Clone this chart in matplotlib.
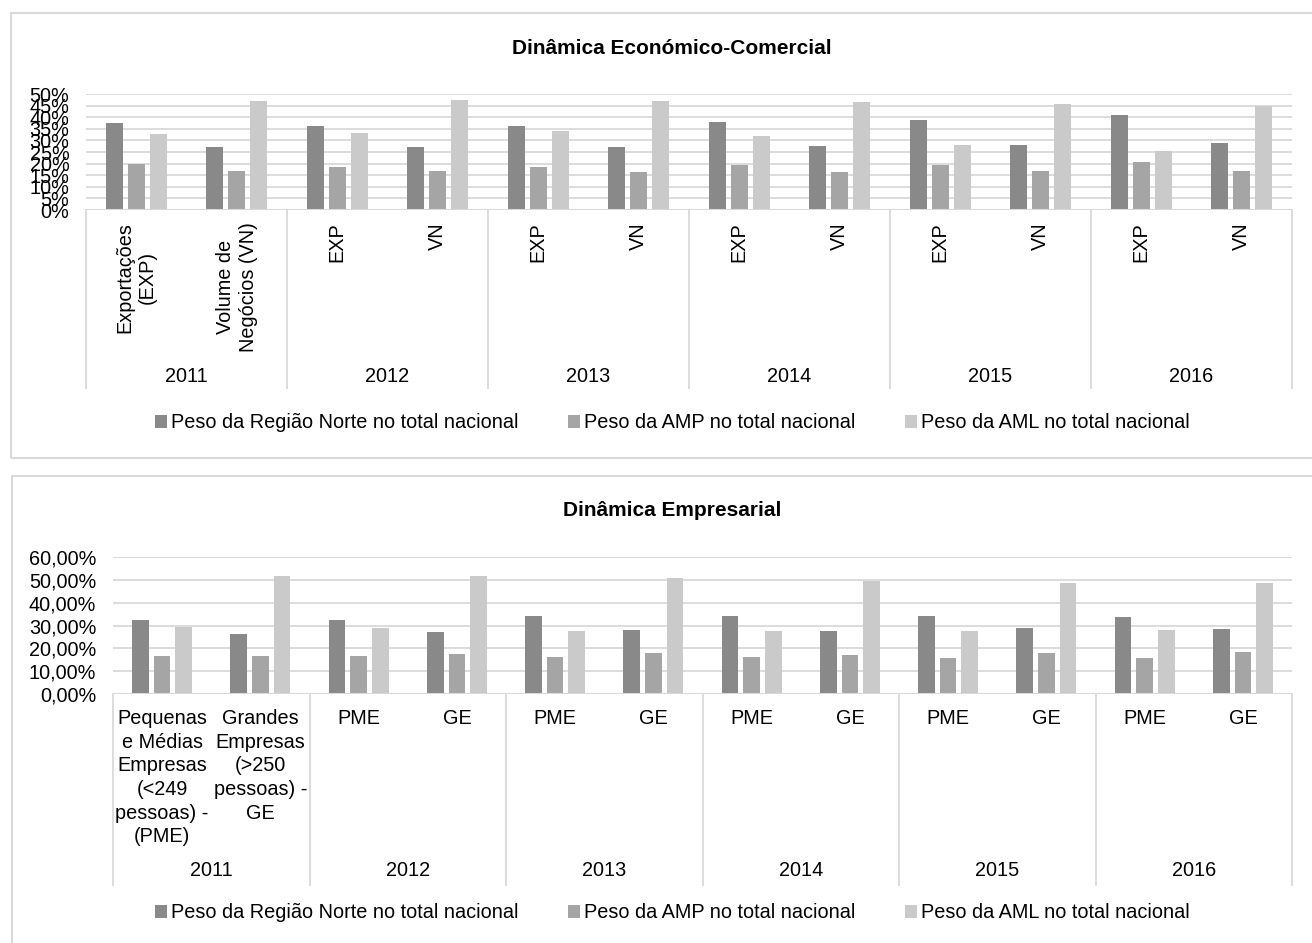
import matplotlib
matplotlib.use('Agg')
import matplotlib.pyplot as plt
from matplotlib import transforms
from matplotlib.patches import Rectangle, Patch

plt.rcParams['font.family'] = ['Liberation Sans', 'DejaVu Sans']
plt.rcParams['text.color'] = '#000000'

W, H = 1312, 943

years = ['2011', '2012', '2013', '2014', '2015', '2016']
series = ['Peso da Região Norte no total nacional',
          'Peso da AMP no total nacional',
          'Peso da AML no total nacional']
colors = ['#898989', '#a5a5a5', '#cacaca']

# Dinâmica Económico-Comercial (%)
eco_labels = ['Exportações\n(EXP)', 'Volume de\nNegócios (VN)'] + ['EXP', 'VN'] * 5
eco_norte = [37.3, 27.2, 36.3, 27.2, 36.3, 27.2, 37.8, 27.7, 38.8, 28.1, 40.8, 28.8]
eco_amp = [19.9, 16.9, 18.7, 16.7, 18.7, 16.3, 19.2, 16.4, 19.5, 16.7, 20.6, 17.0]
eco_aml = [32.7, 47.1, 33.4, 47.4, 34.1, 47.1, 31.8, 46.5, 28.0, 45.7, 25.6, 44.8]

# Dinâmica Empresarial (%)
emp_labels = ['Pequenas\ne Médias\nEmpresas\n(<249\npessoas) -\n(PME)',
              'Grandes\nEmpresas\n(>250\npessoas) -\nGE'] + ['PME', 'GE'] * 5
emp_norte = [32.3, 26.3, 32.6, 27.2, 34.1, 27.9, 34.2, 27.5, 34.1, 28.7, 33.9, 28.5]
emp_amp = [16.5, 16.7, 16.8, 17.7, 16.2, 18.0, 16.1, 17.1, 15.9, 18.1, 15.9, 18.3]
emp_aml = [29.2, 51.8, 28.9, 51.8, 27.8, 50.6, 27.6, 49.6, 27.6, 48.5, 27.9, 48.8]

FS = 14.3
GRID = '#d9d9d9'


def fy(py):
    return 1 - py / H


def panel(fig, box, title, title_y, area, ymax, ystep, fmt, labels, data,
          rotate, label_top, year_y, sep_bottom, legend_y):
    x0, y0, x1, y1 = box
    fig.patches.append(Rectangle((x0 / W, fy(y1)), (x1 - x0) / W, (y1 - y0) / H,
                                 transform=fig.transFigure, fill=False,
                                 edgecolor=GRID, linewidth=1.5))
    fig.text(672 / W, fy(title_y), title, ha='center', va='center',
             fontsize=15, fontweight='bold')

    left, top, right, bottom = area
    ax = fig.add_axes([left / W, fy(bottom), (right - left) / W, (bottom - top) / H])
    n = len(labels)
    idx = list(range(n))
    width = 0.17
    for k, vals in enumerate(data):
        ax.bar([i + (k - 1) * 0.22 for i in idx], [v / 100 for v in vals], width,
               color=colors[k], zorder=3)
    ax.set_xlim(-0.5, n - 0.5)
    ax.set_ylim(0, ymax)
    ticks = [i * ystep for i in range(int(round(ymax / ystep)) + 1)]
    ax.set_yticks(ticks)
    ax.set_yticklabels([fmt(t) for t in ticks], fontsize=FS)
    ax.tick_params(axis='y', length=0, pad=12)
    ax.set_xticks([])
    ax.yaxis.grid(True, color=GRID, linewidth=1.3, zorder=0)
    for s in ax.spines.values():
        s.set_visible(False)
    ax.axhline(0, color=GRID, linewidth=1.5, zorder=4)

    trans = transforms.blended_transform_factory(ax.transData, fig.transFigure)
    for i, lab in enumerate(labels):
        if rotate:
            ax.text(i, fy(label_top), lab, rotation=90, ha='center', va='top',
                    multialignment='center', fontsize=FS, transform=trans,
                    linespacing=1.25)
        else:
            ax.text(i, fy(label_top), lab, ha='center', va='top',
                    multialignment='center', fontsize=FS, transform=trans,
                    linespacing=1.31)
    for j, yr in enumerate(years):
        ax.text(2 * j + 0.5, fy(year_y), yr, ha='center', va='center',
                fontsize=FS, transform=trans)
    for b in range(len(years) + 1):
        ax.plot([2 * b - 0.5, 2 * b - 0.5], [fy(bottom), fy(sep_bottom)],
                color=GRID, linewidth=1.3, transform=trans, clip_on=False)

    handles = [Patch(facecolor=c, edgecolor='none') for c in colors]
    fig.legend(handles, series, loc='center', bbox_to_anchor=(672 / W, fy(legend_y)),
               ncol=3, frameon=False, fontsize=FS, handlelength=0.6,
               handleheight=0.6, handletextpad=0.2, columnspacing=2.5,
               borderaxespad=0)
    return ax


fig = plt.figure(figsize=(W / 100, H / 100), dpi=100)

panel(fig, (11, 13, 1320, 458), 'Dinâmica Económico-Comercial', 48,
      (86, 94, 1292, 210), 0.5, 0.05, lambda t: '{:.0f}%'.format(t * 100),
      eco_labels, [eco_norte, eco_amp, eco_aml], True, 222, 377, 388, 423)

panel(fig, (12, 476, 1320, 960), 'Dinâmica Empresarial', 511,
      (113, 557, 1292, 694), 0.6, 0.1,
      lambda t: '{:.2f}%'.format(t * 100).replace('.', ','),
      emp_labels, [emp_norte, emp_amp, emp_aml], False, 709, 870, 885, 913)

fig.savefig('out.png', dpi=100)
